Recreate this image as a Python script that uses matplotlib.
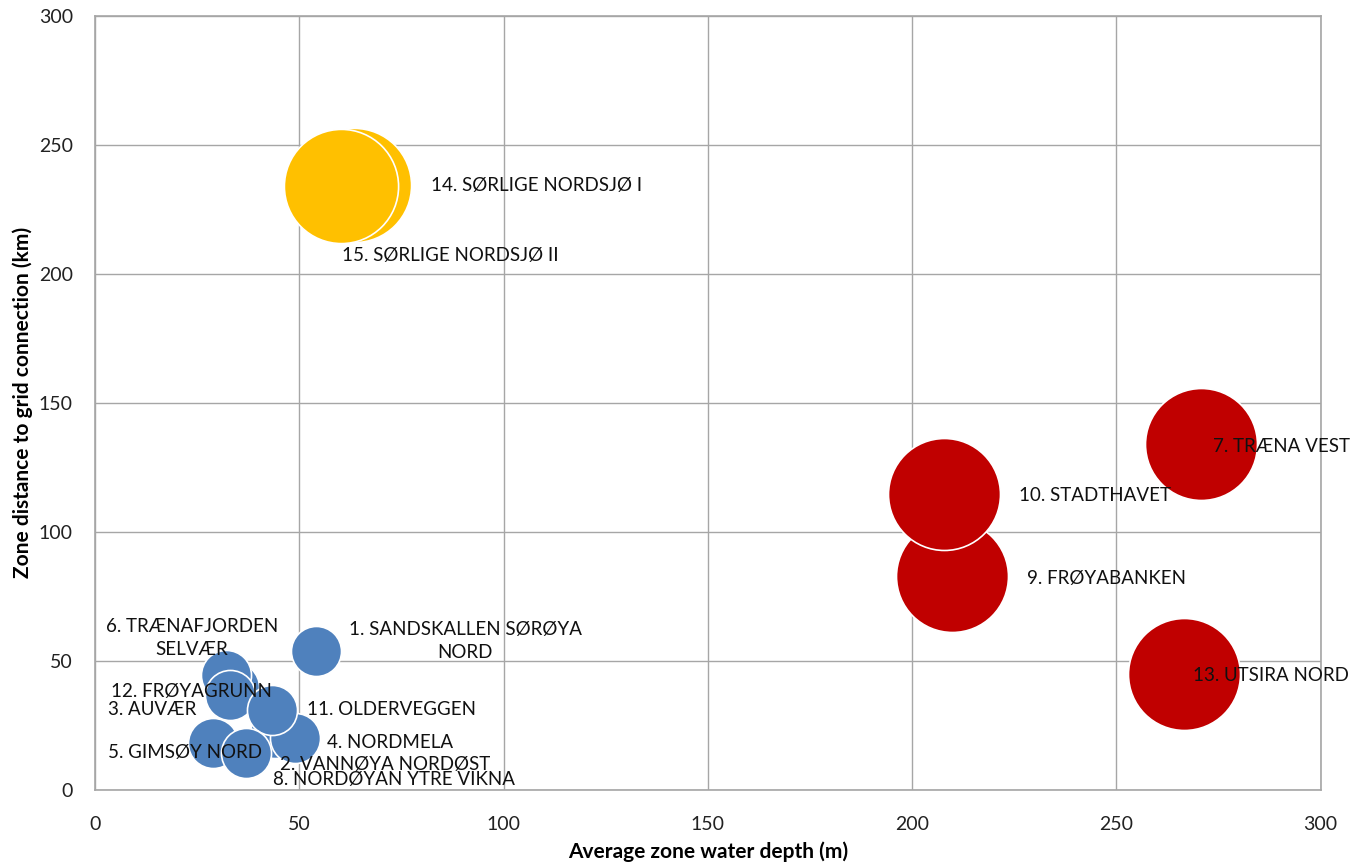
import matplotlib
matplotlib.use("Agg")
import matplotlib.pyplot as plt

plt.rcParams['font.family'] = ['Lato', 'DejaVu Sans']

# zone data: water depth (m), grid distance (km), bubble size
names = ["3. AUVÆR", "2. VANNØYA NORDØST", "6. TRÆNAFJORDEN\nSELVÆR", "12. FRØYAGRUNN",
         "4. NORDMELA", "11. OLDERVEGGEN", "5. GIMSØY NORD", "8. NORDØYAN YTRE VIKNA",
         "1. SANDSKALLEN SØRØYA\nNORD",
         "9. FRØYABANKEN", "10. STADTHAVET", "7. TRÆNA VEST", "13. UTSIRA NORD",
         "14. SØRLIGE NORDSJØ I", "15. SØRLIGE NORDSJØ II"]
depth = [34, 44, 32, 33, 49, 43.3, 29, 37, 54, 209.8, 207.8, 270.7, 266.7, 63.4, 60.1]
distance = [40, 22, 44.6, 36.8, 20, 31, 18.1, 14.2, 53.9, 82.8, 114.7, 134.1, 44.8, 234.5, 234]
size = [200, 200, 200, 200, 200, 200, 200, 200, 200, 1000, 1000, 1000, 1000, 1040, 1040]
group = ["blue"] * 9 + ["red"] * 4 + ["yellow"] * 2

colors = {"blue": "#4F81BD", "red": "#C00000", "yellow": "#FFC000"}

# where each label sits (data coords) and how it's aligned
label_xy = [(3.3, 31.0), (45.3, 10.0), (23.7, 58.9), (3.8, 38.1),
            (56.7, 18.3), (51.8, 31.0), (3.3, 14.5), (43.5, 3.9),
            (90.6, 57.7),
            (228.1, 82.0), (226.2, 114.0), (273.6, 133.0), (268.7, 44.2),
            (82.3, 234.4), (60.4, 207.0)]
label_ha = ["left", "left", "center", "left", "left", "left", "left", "left", "center",
            "left", "left", "left", "left", "left", "left"]

fig = plt.figure(figsize=(13.56, 8.66), dpi=100)
ax = fig.add_axes([95 / 1356, 76 / 866, 1225.5 / 1356, 774.3 / 866])

for i in range(len(names)):
    ax.scatter(depth[i], distance[i], s=size[i] * 6.5, color=colors[group[i]],
               edgecolors="white", linewidths=1.2, zorder=3 + i * 0.01)

for i, n in enumerate(names):
    ax.text(label_xy[i][0], label_xy[i][1], n, ha=label_ha[i], va="center",
            fontsize=13.5, color="#111111", zorder=10, linespacing=1.45)

ax.set_xlim(0, 300)
ax.set_ylim(0, 300)
ax.set_xticks(range(0, 301, 50))
ax.set_yticks(range(0, 301, 50))
ax.grid(True, color="#A6A6A6", linewidth=1.0, zorder=0)
ax.set_axisbelow(True)
for sp in ax.spines.values():
    sp.set_color("#A6A6A6")
    sp.set_linewidth(1.2)
ax.tick_params(length=0, labelsize=14, colors="#222222")
ax.tick_params(axis="x", pad=19)
ax.tick_params(axis="y", pad=16)

ax.set_xlabel("Average zone water depth (m)", fontsize=15, fontweight="bold", va="center")
ax.set_ylabel("Zone distance to grid connection (km)", fontsize=15, fontweight="bold", va="center")
ax.xaxis.set_label_coords(0.5, -0.080)
ax.yaxis.set_label_coords(-0.059, 0.5)

fig.savefig("out.png", dpi=100)
